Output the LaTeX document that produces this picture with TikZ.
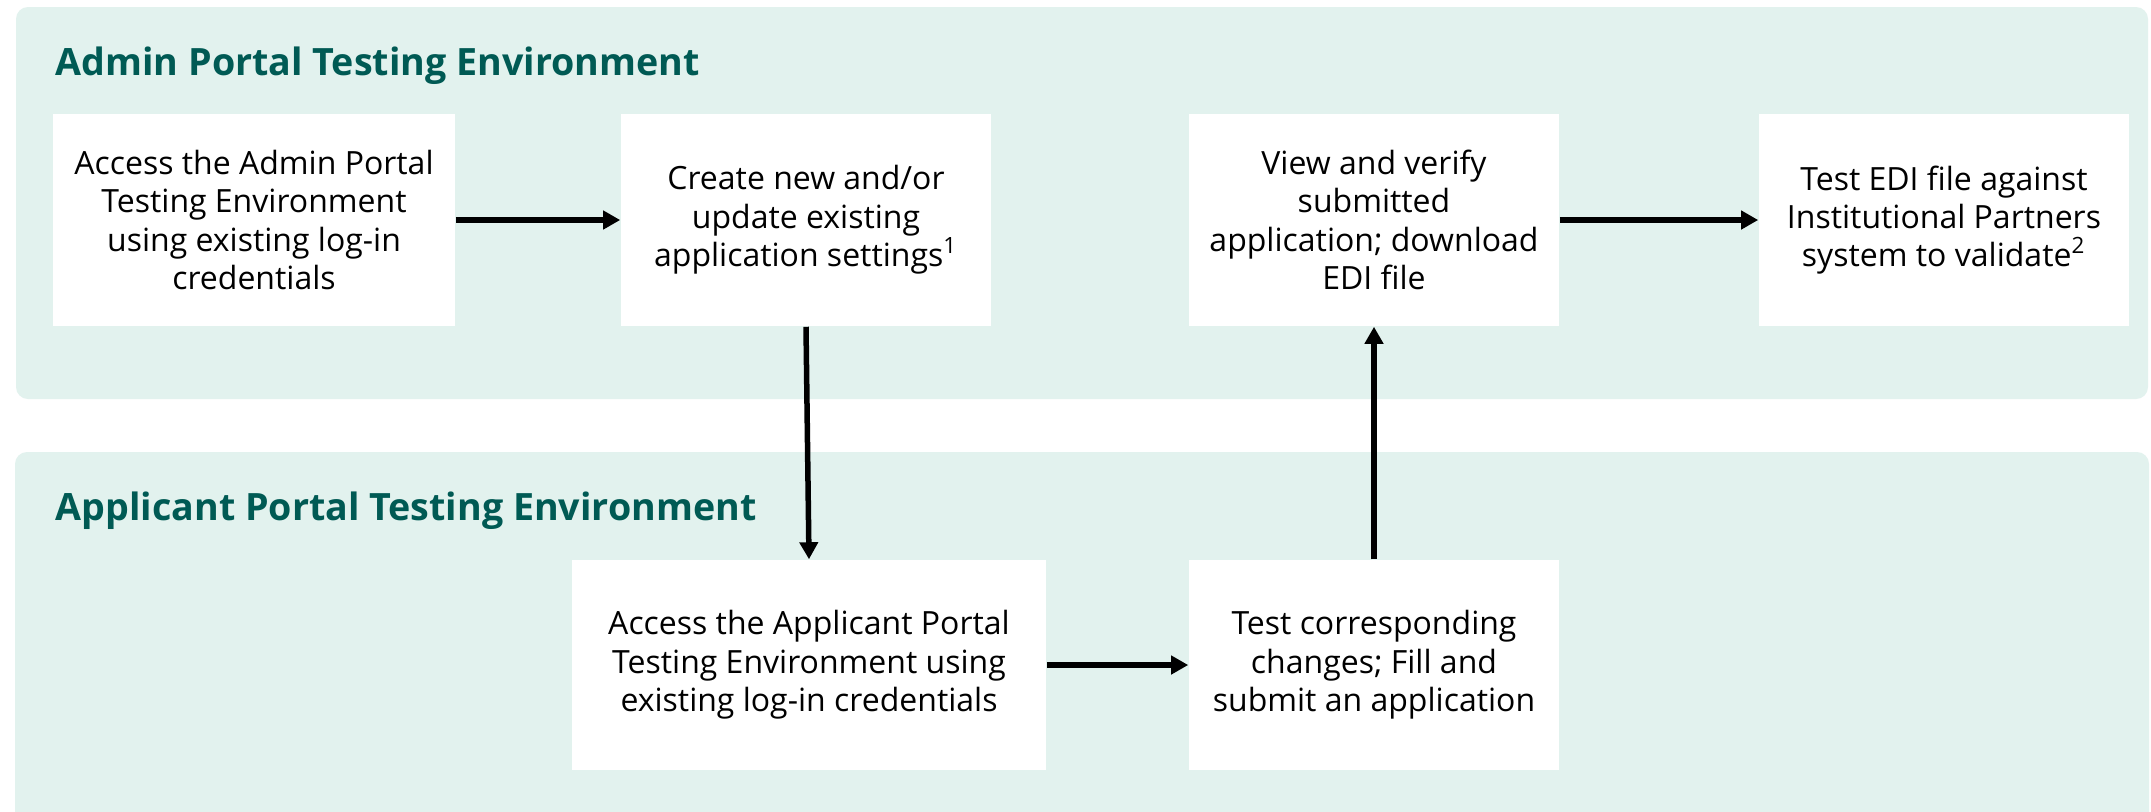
\documentclass[tikz,border=0pt]{standalone}
\usepackage{fontspec}
\setmainfont{Open Sans}
\usetikzlibrary{arrows.meta}
\definecolor{panelfill}{HTML}{E2F2EE}
\definecolor{titlecol}{HTML}{005A54}
\begin{document}
\begin{tikzpicture}[x=0.01cm,y=-0.01cm,
  panel/.style={fill=panelfill,draw=none,rounded corners=0.12cm},
  ptitle/.style={anchor=base west,inner sep=0pt,text=titlecol,font=\fontsize{10.7}{13}\selectfont\bfseries},
  stepbox/.style={fill=white,draw=none,align=center,inner sep=0pt,font=\fontsize{9.1}{10.9}\selectfont},
  flow/.style={line width=0.055cm,-{Triangle[length=0.17cm,width=0.18cm]}}]
\useasboundingbox (0,0) rectangle (2151,811);
\clip (0,0) rectangle (2151,811);
\fill[white] (0,0) rectangle (2151,811);
\path[panel] (16,7) rectangle (2148,399);
\path[panel] (15,452) rectangle (2149,840);
\node[ptitle] (t1) at (55,75) {Admin Portal Testing Environment};
\node[ptitle] (t2) at (55,520) {Applicant Portal Testing Environment};
\node[stepbox,minimum width=4.02cm,minimum height=2.12cm] (b1) at (254,220)
  {Access the Admin Portal\\Testing Environment\\using existing log-in\\credentials};
\node[stepbox,minimum width=3.70cm,minimum height=2.12cm] (b2) at (806,220)
  {Create new and/or\\update existing\\application settings\textsuperscript{1}};
\node[stepbox,minimum width=3.70cm,minimum height=2.12cm] (b3) at (1374,220)
  {View and verify\\submitted\\application; download\\EDI file};
\node[stepbox,minimum width=3.70cm,minimum height=2.12cm] (b4) at (1944,220)
  {Test EDI file against\\Institutional Partners\\system to validate\textsuperscript{2}};
\node[stepbox,minimum width=4.74cm,minimum height=2.10cm] (b5) at (809,665)
  {Access the Applicant Portal\\Testing Environment using\\existing log-in credentials};
\node[stepbox,minimum width=3.70cm,minimum height=2.10cm] (b6) at (1374,665)
  {Test corresponding\\changes; Fill and\\submit an application};
\draw[flow] (b1) -- (b2);
\draw[flow] (b3) -- (b4);
\draw[flow] (b2.south) -- (b5.north);
\draw[flow] (b5) -- (b6);
\draw[flow] (b6) -- (b3);
\end{tikzpicture}
\end{document}
